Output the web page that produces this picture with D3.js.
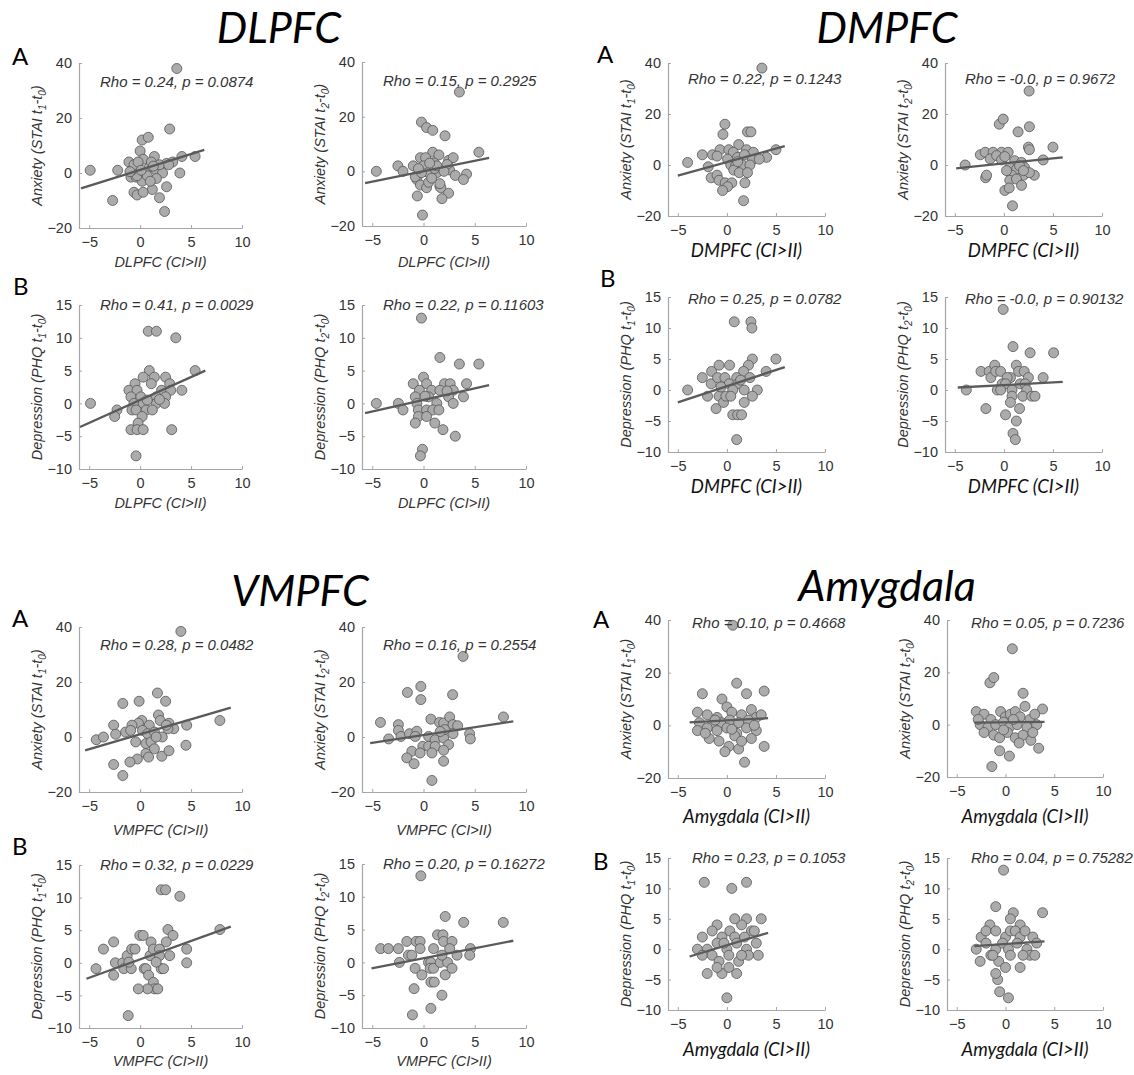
<!DOCTYPE html>
<html><head><meta charset="utf-8">
<script src="https://cdn.jsdelivr.net/npm/d3@7"></script>
<style>body{margin:0;background:#fff}svg{display:block}</style>
</head><body>
<svg id="c" width="1134" height="1075"></svg>
<script>
// ---------------- DATA ----------------
const REGIONS = ["DLPFC", "DMPFC", "VMPFC", "Amygdala"];
const X_TICKS = [-5, 0, 5, 10];
const Y_TICKS_ANX = [-20, 0, 20, 40];
const Y_TICKS_DEP = [-10, -5, 0, 5, 10, 15];
const X_DOMAIN = [-6, 10];
const Y_DOMAIN_ANX = [-20, 40];
const Y_DOMAIN_DEP = [-10, 15];

const dlpfc_anx_t1 = [[3.6,38],[-4.9,1],[-2.2,1],[-2.7,-10],[2.9,16],[0.2,12],[0.8,13],[0,8],[-1.1,4],[0.3,5],[1.4,6],[4.1,6],[5.4,6],[2.6,3.5],[3.2,4],[3.9,0],[-0.4,2],[-0.9,-1.5],[-0.4,-1.5],[0.9,2],[1.6,1],[2.2,0],[1.6,-2],[0.2,-3],[1.2,-6],[2.6,-5],[1.9,-9],[-0.6,-7],[-0.3,-8],[0.3,-7],[2.4,-14],[-0.3,-1],[-0.8,1],[1.1,4],[1.9,3],[-0.6,3],[0.5,0],[1.3,2.5],[-1,0.5],[0.7,-1],[2.8,3],[-0.2,4],[1,-3],[0.1,1]];
const dlpfc_anx_t2 = [[3.5,29],[-4.6,0],[-2.5,2],[-2.0,0],[-1.0,2],[-0.2,18],[0.3,16],[0.9,15],[2.1,13],[5.4,7],[0.9,7],[1.5,6],[-0.3,5],[0.2,5],[1.05,3],[2.45,4],[2.9,5],[-0.65,-3],[-0.8,-2],[0,2],[0.5,-0.5],[1.3,-0.5],[2.55,0.5],[3.1,-1.5],[4.2,-1],[3.9,-3],[-0.3,-5],[0.3,-6],[-0.6,-9],[1.6,-5.5],[1.7,-6],[2.45,-8],[1.8,-10],[-0.1,-16],[0.5,-4],[1.6,-4.5],[1.1,1],[2.3,2.5],[-0.2,-0.5],[0.8,-2.5],[1.3,2],[0.6,3],[2,0],[-0.5,1]];
const dlpfc_dep_t1 = [[-4.87,0],[-2.27,-1],[-2.5,-2],[0.8,11],[1.6,11],[3.5,10],[5.4,5],[0.9,5],[1.4,4],[0.3,4],[2.5,4],[1.1,3],[-0.5,3],[2.9,3],[-1.1,2],[-0.3,2],[2.1,2],[4.1,2],[3.0,2],[-0.9,1],[0.07,1],[1.6,1],[2.5,1],[-0.6,0],[0.3,0],[1.6,0],[2.4,0],[-0.8,-1],[-0.4,-1],[0.6,-1],[1.2,-1],[0.2,-2],[-0.2,-3],[-0.9,-4],[-0.3,-4],[0.3,-4],[3.1,-4],[-0.4,-8],[0.7,0.5],[1.9,0.6]];
const dlpfc_dep_t2 = [[-4.6,0],[-2.45,0],[-2.0,-1],[-0.2,13],[1.6,7],[3.5,6],[5.4,6],[0,4],[-1,3],[0.3,3],[2.05,3],[2.6,3],[4.2,3],[-0.4,2],[0.8,2],[1.6,2],[2.9,2],[-0.8,1],[0.5,1],[2.45,1],[3.9,1],[-0.65,0],[1.3,0],[2.9,0],[-0.5,-1],[0.3,-1],[0.9,-1],[1.5,-1],[-0.5,-2],[0.3,-2],[-0.8,-3],[1.1,-3],[1.9,-4],[3.1,-5],[-0.1,-7],[-0.3,-8],[2.3,1.9],[0.15,1.1]];

const dmpfc_anx_t1 = [[3.57,38],[-4.0,1],[-2.5,4],[-1.9,-0.7],[-1.6,-5],[-1.0,-4],[-0.8,-6],[-0.2,16],[-0.4,12],[2.1,13],[2.45,13],[-0.7,6],[0.2,6],[1.2,8],[2.0,6],[0.65,5],[2.7,5],[4.05,3],[5.0,6],[-1.46,4],[-1.0,3.5],[0.07,2.3],[1.1,3],[1.8,4],[2.6,2],[3.3,2.3],[0.4,0],[0.9,0],[1.6,0],[2.35,0],[0.7,-2],[1.26,-3],[2.1,-3],[-0.17,-7],[0.5,-7],[0.07,-8.5],[-0.44,-10],[1.84,-7],[1.7,-14],[1.1,1.3]];
const dmpfc_anx_t2 = [[2.57,29],[-3.95,0],[-2.4,4],[-1.86,-5],[-0.47,16],[-0.07,18],[1.45,13],[2.6,15],[2.5,7],[2.6,6],[5.0,7],[4.0,2],[3.1,-4],[-1.9,5],[-1.1,5],[-0.24,5],[0.44,5],[-1.4,2.4],[-0.74,3.7],[-0.24,2],[0.1,3.3],[1.1,1.7],[1.8,1],[2.1,-1],[0.6,-1],[1.3,-1.6],[2.0,-4],[-1.76,-4],[0.8,-4],[0.6,-6],[1.28,-5.5],[1.8,-8],[2.6,-3],[0.1,-10],[0.54,-9],[0.88,-16],[0.27,-2.2],[1.6,-0.3],[2.0,-2.2]];
const dmpfc_dep_t1 = [[-4.0,0],[-2.5,2],[-1.97,-1],[-1.56,3],[-1.6,1],[-0.8,4],[-1.1,-3],[-0.95,2],[-0.8,-1],[-0.34,-2],[-0.2,2],[0.27,4],[0.75,11],[2.45,11],[2.55,10],[2.6,5],[5.0,5],[2.2,4],[1.7,3],[4.0,3],[1.0,2],[2.35,2],[0.24,1],[1.1,1],[0.6,0],[1.77,0],[3.1,0],[2.6,-1],[-0.1,-1],[0.4,-1],[1.77,-2],[0.6,-4],[1.1,-4],[1.5,-4],[1.0,-8],[1.4,1.6],[-0.6,0.5]];
const dmpfc_dep_t2 = [[-3.83,0],[-2.33,3],[-1.83,-3],[-1.5,3],[-1.33,2],[-0.93,4],[-0.83,3],[-0.33,3],[-0.07,13],[0.93,7],[2.67,6],[5.07,6],[1.27,4],[1.5,3],[2.07,3],[4.0,2],[0.67,2],[0.33,2],[2.5,2],[1.67,1],[2.17,1],[-0.17,1],[0.17,1],[-0.67,0],[-0.33,0],[0.83,0],[2.33,0],[0.83,-1],[1.93,-1],[2.83,-1],[3.17,-1],[0.67,-2],[1.6,-3],[0.17,-4],[1.27,-5],[0.93,-7],[1.17,-8]];

const vmpfc_anx_t1 = [[4.0,38.4],[-4.3,-1],[-3.6,0],[-2.6,4.3],[-2.4,1],[-2.6,-10],[-1.7,12.2],[-1.7,-14],[-0.1,13],[1.7,16],[2.5,13],[1.8,8],[1.97,6],[0.17,6],[-0.17,5],[-0.8,4.3],[0.9,4.3],[2.83,5],[3.3,3],[4.57,4.3],[7.83,6],[-1.43,1.8],[-0.93,2.4],[0.23,2.4],[0.73,1.2],[1.4,1.8],[2.17,0],[2.73,3],[-0.43,-1.8],[0.57,-2.4],[1.07,-1.8],[1.4,-4.3],[4.5,-3],[0.57,-6],[0.83,-7.3],[2.13,-7],[2.83,-5],[-0.27,-8],[-1.0,-9.1],[1.57,0],[2.57,4.3]];
const vmpfc_anx_t2 = [[3.86,29.3],[-4.2,5.3],[-3.4,-0.7],[-2.45,4.5],[-2.45,2.4],[-2.2,0.2],[-1.57,16.2],[-0.26,18.4],[-0.26,13.6],[2.84,15.4],[7.8,7.3],[0.72,6.5],[1.57,5.3],[1.96,5.1],[2.55,7.3],[2.88,4.5],[3.33,4.1],[4.5,1.2],[4.57,-0.7],[-1.37,1.2],[-0.65,2.1],[-0.8,0.2],[0.5,0.2],[1.14,-1],[1.96,-0.4],[2.88,1.2],[2.06,2.7],[-0.07,-3.4],[0.5,-3.4],[1.14,-3.4],[2.45,-2.8],[-1.14,-5.2],[-0.33,-5.8],[0.82,-5.8],[1.96,-4.8],[-1.63,-7.6],[-0.92,-9.7],[1.96,-8.8],[0.82,-15.8],[1.63,2]];
const vmpfc_dep_t1 = [[-4.33,-0.9],[-3.6,2.1],[-2.6,3.2],[-2.43,0],[-2.6,-1.9],[-1.7,0],[-1.6,-0.9],[-1.27,1.1],[-0.83,2.1],[-0.5,2.1],[-0.87,-0.9],[-1.1,0.1],[-0.03,4.2],[0.3,4.2],[1.07,3.2],[0.97,1.1],[1.3,2.1],[1.9,2.1],[1.9,1.1],[2.07,11.2],[2.5,11.2],[3.9,10.2],[2.73,5.1],[3.23,4.2],[2.57,3.2],[2.9,1.1],[4.57,2.1],[4.57,0],[7.83,5.1],[0.4,-0.9],[0.57,-0.9],[0.83,-1.9],[1.3,-3],[1.4,-4],[1.73,-4],[0.73,-4],[-0.17,-4],[2.07,-0.9],[2.3,-0.9],[-1.17,-8.1],[1.57,0.1]];
const vmpfc_dep_t2 = [[-4.18,2.1],[-3.43,2.1],[-2.45,2.1],[-2.35,0],[-1.63,3.2],[-1.47,1.1],[-1.14,1.1],[-0.72,3.2],[-0.33,3.2],[-0.33,2.1],[-0.82,-0.9],[-0.26,13.2],[0.49,0],[0.72,0],[-0.16,-1.9],[0.65,-0.9],[0.98,-0.9],[0.72,-3],[1.05,-3],[-0.92,-4],[-1.08,-8],[0.72,-7],[1.8,-5],[0.98,2.1],[1.37,4.2],[1.9,4.2],[1.96,3.2],[2.12,7],[3.92,6.1],[7.78,6.1],[2.78,3.2],[2.55,2.1],[4.58,2.1],[4.51,1.1],[3.27,1.1],[1.63,0],[2.35,0],[2.12,-1.9],[2.78,-0.9],[1.8,1.1]];

const amyg_anx_t1 = [[0.6,38],[-2.5,12],[1,16],[3.8,13],[-0.5,10],[2,12],[0,7],[-3,5],[-2,4],[-1,3],[0.5,5],[1.5,4],[2.5,6],[3,3],[3.5,4],[-2.8,1],[-1.5,0],[-0.5,1],[0.3,2],[1.2,1],[2.2,2],[-3,-2],[-2,-1],[-1,-2],[0,-1],[1,-3],[2,-1],[3,-2],[3.8,-8],[-1.8,-5],[-0.8,-6],[0.2,-8],[1.2,-9],[2.5,-5],[-0.2,-10],[1.8,-14],[0.8,-4],[-2.2,-3],[-1.2,2],[2.8,0],[0.5,-1.5],[1.5,-6]];
const amyg_anx_t2 = [[0.7,29],[-1.6,16],[-1.2,18],[1.8,12],[2,7],[3.8,6],[-3,5],[-2.2,4],[-1.5,2],[-0.5,5],[0,3],[0.5,4],[1,5],[1.5,3],[2.5,2],[3,4],[-2.6,0],[-1.8,-1],[-1,0],[-0.2,1],[0.4,-1],[1.2,0],[2.2,-1],[3.2,0],[-2.2,-3],[-1.2,-4],[-0.6,-5],[0.2,-3],[1,-5],[1.8,-4],[2.6,-6],[3.4,-9],[-0.6,-10],[-1.4,-16],[0.4,-12],[1.4,-7],[-0.2,-2],[0.8,2],[2.8,-3],[-2.8,2]];
const amyg_dep_t1 = [[-2.3,11],[0.5,10],[2,11],[2,5],[3.5,5],[-1,4],[0.3,3],[1.5,4],[2.5,3],[-2.5,2],[-1.5,3],[-0.5,2],[0.8,2],[1.8,2],[3,1],[-3,0],[-2,0],[-1,1],[0,0],[1,1],[2,0],[3.2,-1],[-2.5,-1],[-1.5,-1],[-0.8,-2],[0.2,-1],[1.2,-2],[2.2,-1],[-2,-4],[-0.5,-4],[0.2,-3],[1,-4],[0,-8],[-1,-3],[2.8,3],[1.5,-1],[-0.3,1],[0.8,5]];
const amyg_dep_t2 = [[-0.2,13],[-1,7],[0.8,6],[3.8,6],[-1.6,4],[0.5,5],[1.5,4],[-2.5,2],[-2,3],[-1,3],[0,2],[0.5,3],[1,3],[1.5,2],[2,3],[2.8,2],[-3,0],[-2,1],[-1,0],[-0.3,1],[0.3,0],[1.2,1],[2.2,0],[3.2,1],[-2.6,-2],[-1.5,-1],[-0.7,-2],[0.5,-1],[1.5,-3],[2.5,-1],[-0.8,-5],[-1,-4],[-0.6,-7],[0.3,-8],[1.8,-1],[-1.3,-1],[3,-1],[0,-3]];

// regression line end points [x0, y0, x1, y1] per panel (A-left, A-right, B-left, B-right)
const dlpfc_fit = [[-5.8,-5.6,6.3,8.4],[-5.7,-4.3,6.4,4.9],[-5.9,-3.6,6.4,5.0],[-5.7,-1.5,6.4,2.8]];
const dmpfc_fit = [[-5.0,-4.2,5.9,7.4],[-4.86,-1.3,6.0,3.0],[-5.0,-2.0,5.9,3.7],[-4.7,0.4,6.0,1.3]];
const vmpfc_fit = [[-5.4,-4.9,8.9,10.7],[-5.2,-2.2,8.76,5.7],[-5.27,-2.45,8.9,5.56],[-5.07,-0.9,8.76,3.3]];
const amyg_fit = [[-3.8,1.1,4.2,2.7],[-3.2,0.8,4.0,1.1],[-3.8,-1.2,4.2,2.7],[-3.2,0.5,4.0,1.3]];

const dlpfc_stats = ["Rho = 0.24, p = 0.0874", "Rho = 0.15, p = 0.2925", "Rho = 0.41, p = 0.0029", "Rho = 0.22, p = 0.11603"];
const dmpfc_stats = ["Rho = 0.22, p = 0.1243", "Rho = -0.0, p = 0.9672", "Rho = 0.25, p = 0.0782", "Rho = -0.0, p = 0.90132"];
const vmpfc_stats = ["Rho = 0.28, p = 0.0482", "Rho = 0.16, p = 0.2554", "Rho = 0.32, p = 0.0229", "Rho = 0.20, p = 0.16272"];
const amyg_stats = ["Rho = 0.10, p = 0.4668", "Rho = 0.05, p = 0.7236", "Rho = 0.23, p = 0.1053", "Rho = 0.04, p = 0.75282"];

const Y_LABEL_PREFIX = ["Anxiety (STAI", "Anxiety (STAI", "Depression (PHQ", "Depression (PHQ"];
const Y_LABEL_SUB = ["1", "2", "1", "2"];
const PANEL_LETTERS = ["A", "B"];

// ---------------- LAYOUT ----------------
const GROUPS = [
  { name: REGIONS[0], data: [dlpfc_anx_t1, dlpfc_anx_t2, dlpfc_dep_t1, dlpfc_dep_t2], fit: dlpfc_fit, stats: dlpfc_stats,
    title: [279, 43], letters: [[12, 65], [13, 295]], xFont: "sans", xLabY: 267, xLabYB: 508,
    frames: [[79,242,63,228],[362,526,62,226],[79,242,305,469],[362,526,305,469]], statDy: [24, 24, 5, 5], statDx: 21 },
  { name: REGIONS[1], data: [dmpfc_anx_t1, dmpfc_anx_t2, dmpfc_dep_t1, dmpfc_dep_t2], fit: dmpfc_fit, stats: dmpfc_stats,
    title: [887, 43], letters: [[597, 63], [600, 287]], xFont: "lato", xLabY: 257, xLabYB: 493,
    frames: [[668,825,63,216],[945,1102,63,216],[668,825,297,452],[945,1102,297,452]], statDy: [21, 21, 7, 7], statDx: 20 },
  { name: REGIONS[2], data: [vmpfc_anx_t1, vmpfc_anx_t2, vmpfc_dep_t1, vmpfc_dep_t2], fit: vmpfc_fit, stats: vmpfc_stats,
    title: [300, 606], letters: [[12, 627], [12, 855]], xFont: "sans", xLabY: 835, xLabYB: 1066,
    frames: [[79,242,627,792],[362,526,627,792],[79,242,865,1028],[362,526,864,1028]], statDy: [23, 23, 5, 5], statDx: 21 },
  { name: REGIONS[3], data: [amyg_anx_t1, amyg_anx_t2, amyg_dep_t1, amyg_dep_t2], fit: amyg_fit, stats: amyg_stats,
    title: [887, 601], letters: [[593, 628], [593, 870]], xFont: "lato", xLabY: 823, xLabYB: 1056,
    frames: [[668,825,620,778],[947,1103,620,777],[668,825,858,1010],[947,1103,858,1010]], statDy: [8, 8, 5, 5], statDx: 24 }
];

const svg = d3.select("#c");
const TXT = "#333333", AXC = "#a6a6a6", FILL = "#ababab", EDGE = "#555555", LINEC = "#5a5a5a";
const SANS = "'Liberation Sans', Arial, sans-serif";
const LATO = "Lato, 'Open Sans', sans-serif";

GROUPS.forEach(G => {
  G.frames.forEach((f, k) => {
    const isAnx = k < 2;
    const x = d3.scaleLinear().domain(X_DOMAIN).range([f[0], f[1]]);
    const y = d3.scaleLinear().domain(isAnx ? Y_DOMAIN_ANX : Y_DOMAIN_DEP).range([f[3], f[2]]);
    const g = svg.append("g");

    const xa = g.append("g").attr("transform", `translate(0,${f[3]})`)
      .call(d3.axisBottom(x).tickValues(X_TICKS).tickSizeInner(-3).tickSizeOuter(0).tickPadding(9).tickFormat(d3.format("d")));
    const ya = g.append("g").attr("transform", `translate(${f[0]},0)`)
      .call(d3.axisLeft(y).tickValues(isAnx ? Y_TICKS_ANX : Y_TICKS_DEP).tickSizeInner(-3).tickSizeOuter(0).tickPadding(7).tickFormat(d3.format("d")));
    [xa, ya].forEach(a => {
      a.select(".domain").attr("stroke", AXC).attr("stroke-width", 1.2);
      a.selectAll(".tick line").attr("stroke", AXC);
      a.selectAll(".tick text").attr("fill", TXT).attr("font-family", SANS).attr("font-size", 14.5);
    });

    // points
    g.append("g").selectAll("circle").data(G.data[k]).join("circle")
      .attr("cx", d => x(d[0])).attr("cy", d => y(d[1])).attr("r", 5)
      .attr("fill", FILL).attr("stroke", EDGE).attr("stroke-width", 0.8);
    // fit line
    const L = G.fit[k];
    g.append("line").attr("x1", x(L[0])).attr("y1", y(L[1])).attr("x2", x(L[2])).attr("y2", y(L[3]))
      .attr("stroke", LINEC).attr("stroke-width", 2.3);

    // stats text
    g.append("text").attr("x", f[0] + G.statDx).attr("y", f[2] + G.statDy[k])
      .attr("font-family", SANS).attr("font-style", "italic").attr("font-size", 15).attr("fill", TXT).text(G.stats[k]);

    // y label
    const ly = (f[2] + f[3]) / 2, lx = f[0] - 37;
    const t = g.append("text").attr("transform", `translate(${lx},${ly}) rotate(-90)`).attr("text-anchor", "middle")
      .attr("font-family", SANS).attr("font-style", "italic").attr("font-size", 14.5).attr("fill", TXT);
    t.append("tspan").text(Y_LABEL_PREFIX[k] + " t");
    t.append("tspan").attr("dy", 4).attr("font-size", 10).text(Y_LABEL_SUB[k]);
    t.append("tspan").attr("dy", -4).text("-t");
    t.append("tspan").attr("dy", 4).attr("font-size", 10).text("0");
    t.append("tspan").attr("dy", -4).text(")");

    // x label
    const lat = G.xFont === "lato";
    g.append("text").attr("x", (f[0] + f[1]) / 2).attr("y", k < 2 ? G.xLabY : G.xLabYB).attr("text-anchor", "middle")
      .attr("font-family", lat ? LATO : SANS).attr("font-style", "italic").attr("font-size", lat ? 18.5 : 14.5)
      .attr("fill", lat ? "#111" : TXT).text(G.name + " (CI>II)");
  });
  svg.append("text").attr("x", G.title[0]).attr("y", G.title[1]).attr("text-anchor", "middle")
    .attr("font-family", LATO).attr("font-style", "italic").attr("font-size", 43).attr("fill", "#000").text(G.name);
  G.letters.forEach((p, i) => {
    svg.append("text").attr("x", p[0]).attr("y", p[1]).attr("font-family", LATO).attr("font-size", 24)
      .attr("fill", "#000").text(PANEL_LETTERS[i]);
  });
});
</script>
</body></html>
